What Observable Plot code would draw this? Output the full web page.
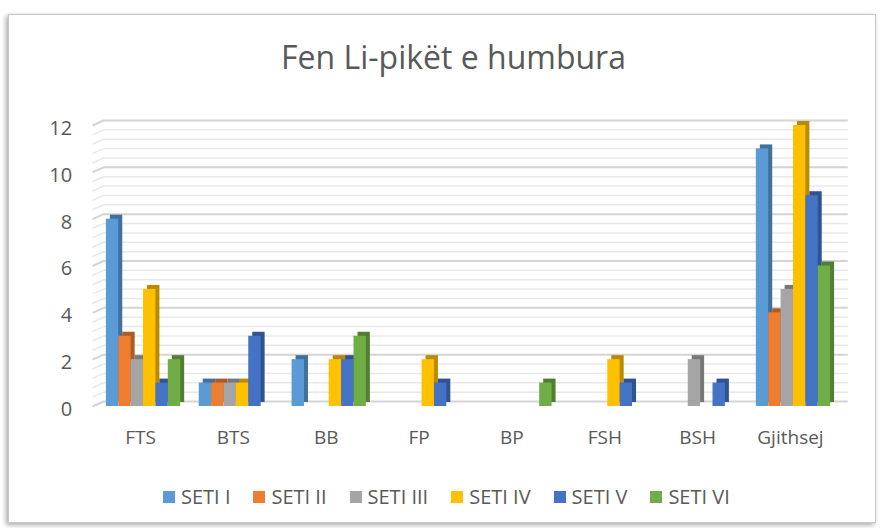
<!DOCTYPE html>
<html>
<head>
<meta charset="utf-8">
<script src="https://cdn.jsdelivr.net/npm/d3@7"></script>
<script src="https://cdn.jsdelivr.net/npm/@observablehq/plot@0.6"></script>
<style>
  html, body { margin: 0; padding: 0; background: #fff; }
  body { width: 883px; height: 528px; position: relative; overflow: hidden; font-family: "Open Sans", Lato, sans-serif; }
  #frame { position: absolute; left: 8px; top: 14px; width: 866px; height: 507px; border: 1px solid #c8c8c8; box-shadow: -2px 2px 5px rgba(0,0,0,0.35); background: #fff; }
  #title { position: absolute; left: 0; top: 41px; width: 907px; text-align: center; font-size: 32px; line-height: 32px; color: #595959; white-space: nowrap; }
  #chart { position: absolute; left: 0; top: 100px; }
  #legend { position: absolute; top: 487px; left: 163px; display: flex; gap: 23px; font-size: 20px; line-height: 20px; color: #595959; white-space: nowrap; }
  #legend .item { display: flex; align-items: center; gap: 6px; }
  #legend .sw { width: 12px; height: 12px; display: inline-block; }
</style>
</head>
<body>
<div id="frame"></div>
<div id="title">Fen Li-pikët e humbura</div>
<div id="chart"></div>
<div id="legend"></div>
<script>
const categories = ["FTS", "BTS", "BB", "FP", "BP", "FSH", "BSH", "Gjithsej"];
const series = ["SETI I", "SETI II", "SETI III", "SETI IV", "SETI V", "SETI VI"];
const colors = ["#5B9BD5", "#ED7D31", "#A5A5A5", "#FFC000", "#4472C4", "#70AD47"];
const setiI   = [8, 1, 2, 0, 0, 0, 0, 11];
const setiII  = [3, 1, 0, 0, 0, 0, 0, 4];
const setiIII = [2, 1, 0, 0, 0, 0, 2, 5];
const setiIV  = [5, 1, 2, 2, 0, 2, 0, 12];
const setiV   = [1, 3, 2, 1, 0, 1, 1, 9];
const setiVI  = [2, 0, 3, 0, 1, 0, 0, 6];
const yTicks = [0, 2, 4, 6, 8, 10, 12];

const values = [setiI, setiII, setiIII, setiIV, setiV, setiVI];
const groupWidth = 0.8;
const bw = groupWidth / series.length;
const rows = [];
categories.forEach((c, i) => {
  series.forEach((s, j) => {
    const v = values[j][i];
    if (v > 0) rows.push({cat: c, series: s, value: v, x1: i - groupWidth / 2 + j * bw, x2: i - groupWidth / 2 + (j + 1) * bw});
  });
});

const pxPerUnitY = (406 - 125) / 12;
const depthY = 5 / pxPerUnitY;
const minor = d3.range(0, 12.001, 0.4).map(v => +v.toFixed(1));
const grid = minor.map(v => ({v, major: Math.abs(v / 2 - Math.round(v / 2)) < 1e-6}));

const shade = c => d3.color(c).darker(0.9).formatHex();

const chart = Plot.plot({
  width: 883,
  height: 360,
  marginTop: 25,
  marginBottom: 54,
  marginLeft: 96.6,
  marginRight: 43.6,
  x: {domain: [-0.5, categories.length - 0.5], axis: null},
  y: {domain: [0, 12], axis: null, label: null},
  style: {fontFamily: "'Open Sans', Lato, sans-serif", overflow: "visible"},
  marks: [
    Plot.ruleY(grid.filter(d => !d.major), {y: d => d.v + depthY, x1: -0.43, x2: 7.59, stroke: "#e8e8e8", strokeWidth: 1.5}),
    Plot.link(grid.filter(d => !d.major), {x1: -0.55, y1: d => d.v, x2: -0.43, y2: d => d.v + depthY, stroke: "#e8e8e8", strokeWidth: 1.5}),
    Plot.ruleY(grid.filter(d => d.major), {y: d => d.v + depthY, x1: -0.43, x2: 7.59, stroke: "#d4d4d4", strokeWidth: 2}),
    Plot.link(grid.filter(d => d.major), {x1: -0.55, y1: d => d.v, x2: -0.43, y2: d => d.v + depthY, stroke: "#d4d4d4", strokeWidth: 2}),
    Plot.rectY(rows, {x1: "x1", x2: "x2", y1: 0, y2: "value", fill: d => shade(colors[series.indexOf(d.series)]), dx: 4, dy: -4}),
    Plot.rectY(rows, {x1: "x1", x2: "x2", y1: 0, y2: "value", fill: d => colors[series.indexOf(d.series)]}),
    Plot.axisY(yTicks, {label: null, tickSize: 0, tickPadding: 25, fontSize: 20, fill: "#595959", dy: 3}),
    Plot.axisX(d3.range(categories.length), {label: null, tickSize: 0, tickPadding: 24, tickFormat: i => categories[i], fontSize: 19, fill: "#595959", dx: -3})
  ]
});
document.getElementById("chart").appendChild(chart);

const legend = document.getElementById("legend");
series.forEach((s, j) => {
  const item = document.createElement("div");
  item.className = "item";
  item.innerHTML = `<span class="sw" style="background:${colors[j]}"></span><span>${s}</span>`;
  legend.appendChild(item);
});
</script>
</body>
</html>
